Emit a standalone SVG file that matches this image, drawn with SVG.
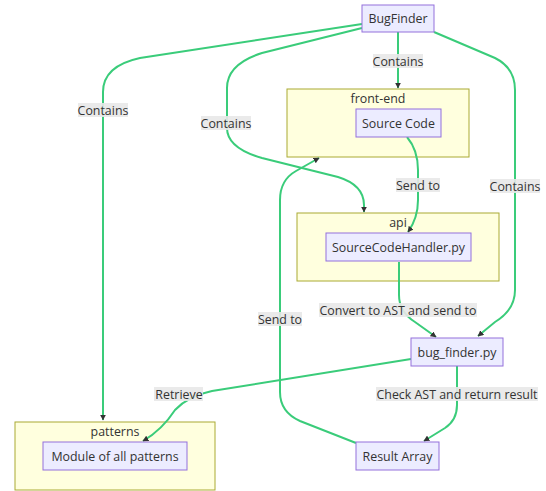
<svg xmlns="http://www.w3.org/2000/svg" width="546" height="491" viewBox="0 0 546 491">
<style>
text{font-family:"Open Sans","Liberation Sans",sans-serif;font-size:12.4px;fill:#333;text-anchor:middle;dominant-baseline:central}
.node rect{fill:#ECECFF;stroke:#9370DB;stroke-width:1}
.cluster rect{fill:#ffffde;stroke:#aaaa33;stroke-width:1}
.edge{fill:none;stroke:#3acc7a;stroke-width:2}
.lbl{fill:#e8e8e8;fill-opacity:0.9}
</style>
<defs>
<marker id="arr" viewBox="0 0 10 10" refX="9" refY="5" markerWidth="6" markerHeight="6" orient="auto" markerUnits="userSpaceOnUse">
<path d="M0,0 L10,5 L0,10 z" fill="#333"/>
</marker>
</defs>
<g id="cluster-front-end" class="cluster"><rect x="287" y="89" width="182" height="68"/><text x="378" y="98">front-end</text></g>
<g id="cluster-api" class="cluster"><rect x="297" y="213" width="202" height="68"/><text x="398" y="222">api</text></g>
<g id="cluster-patterns" class="cluster"><rect x="15" y="422" width="200" height="68"/><text x="115" y="431">patterns</text></g>
<g id="edges">
<path class="edge" marker-end="url(#arr)" d="M362,24 L140,58 Q103,66 103,92 L103,420"/>
<path class="edge" marker-end="url(#arr)" d="M362,28 L262,53 Q227,64 227,88 L227,128 Q227,148 262,158 L338,177 Q364,185 364,205 L364,212"/>
<path class="edge" marker-end="url(#arr)" d="M398,32 L398,88"/>
<path class="edge" marker-end="url(#arr)" d="M434,32 L495,58 Q515,68 515,90 L515,290 Q515,310 495,322 L478,336"/>
<path class="edge" marker-end="url(#arr)" d="M407,137 Q418,150 418,170 L418,200 Q418,218 408,232"/>
<path class="edge" marker-end="url(#arr)" d="M399,262 L399,295 Q399,312 415,322 L436,337"/>
<path class="edge" marker-end="url(#arr)" d="M457,366 L457,405 Q457,420 445,428 L424,441"/>
<path class="edge" marker-end="url(#arr)" d="M411,359 L212,391 Q188,396 175,410 Q162,430 143,441"/>
<path class="edge" marker-end="url(#arr)" d="M356,443 L300,421 Q280,412 280,392 L280,200 Q280,180 296,171 L319,158"/>
<rect class="lbl" x="78" y="103" width="50" height="14"/><text x="103" y="110">Contains</text>
<rect class="lbl" x="201" y="116" width="50" height="14"/><text x="226" y="123">Contains</text>
<rect class="lbl" x="373" y="54" width="50" height="14"/><text x="398" y="61">Contains</text>
<rect class="lbl" x="490" y="179" width="50" height="14"/><text x="515" y="186">Contains</text>
<rect class="lbl" x="396" y="178" width="44" height="14"/><text x="418" y="185">Send to</text>
<rect class="lbl" x="319" y="303" width="158" height="14"/><text x="398" y="310">Convert to AST and send to</text>
<rect class="lbl" x="376" y="387" width="162" height="14"/><text x="457" y="394">Check AST and return result</text>
<rect class="lbl" x="154" y="387" width="49" height="14"/><text x="179" y="394">Retrieve</text>
<rect class="lbl" x="258" y="312" width="44" height="14"/><text x="280" y="319">Send to</text>
</g>
<g id="BugFinder" class="node"><rect x="362" y="5" width="72" height="27"/><text x="398" y="18.5">BugFinder</text></g>
<g id="SourceCode" class="node"><rect x="356" y="109" width="85" height="28"/><text x="398.5" y="123">Source Code</text></g>
<g id="SourceCodeHandler" class="node"><rect x="326" y="233" width="145" height="28"/><text x="398.5" y="247">SourceCodeHandler.py</text></g>
<g id="bug_finder" class="node"><rect x="411" y="338" width="92" height="28"/><text x="457" y="352">bug_finder.py</text></g>
<g id="ResultArray" class="node"><rect x="356" y="442" width="83" height="28"/><text x="397.5" y="456">Result Array</text></g>
<g id="Module" class="node"><rect x="43" y="442" width="144" height="28"/><text x="115" y="456">Module of all patterns</text></g>
</svg>
